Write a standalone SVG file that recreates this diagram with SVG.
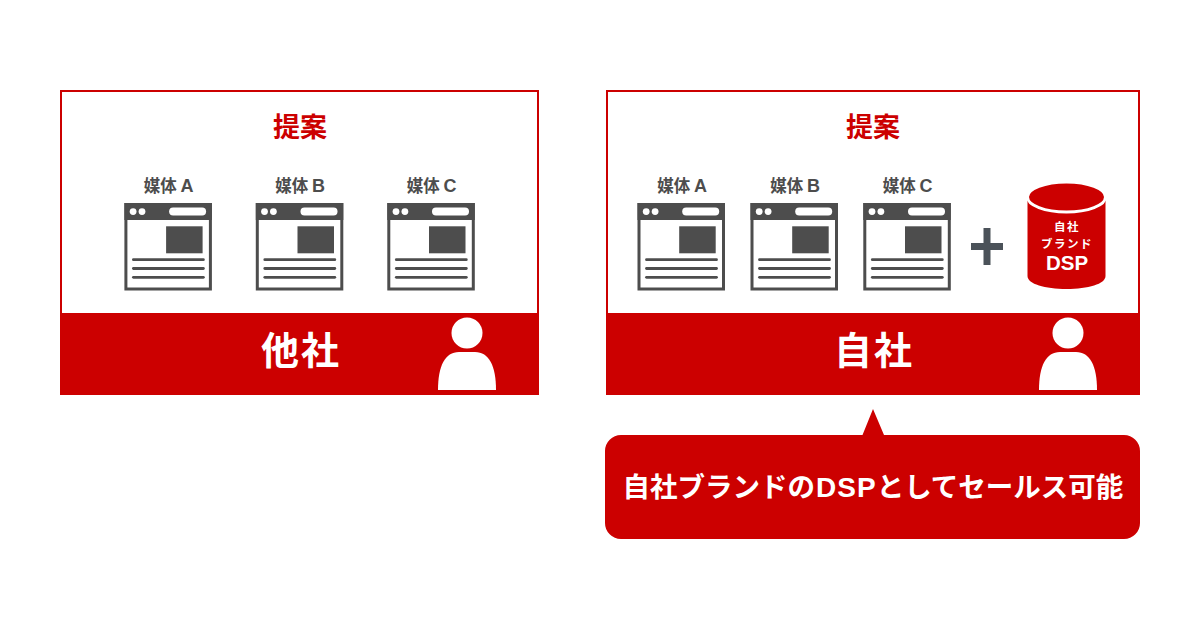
<svg xmlns="http://www.w3.org/2000/svg" width="1200" height="630" viewBox="0 0 1200 630">
<style>
text{font-family:"Noto Sans CJK JP","Noto Sans",sans-serif;font-weight:700;text-anchor:middle}
.latin{font-family:"Liberation Sans",sans-serif;font-weight:700}
.panel{fill:#fff;stroke:#cc0000;stroke-width:2}
.band{fill:#cc0000}
.red{fill:#cc0000;font-size:27px}
.white{fill:#fff}
.big{font-size:38px;letter-spacing:2px}
.media{fill:#4d4d4d;font-size:16.500px}
.dark{fill:#4d4d4d}
.line{stroke:#4d4d4d;stroke-width:2.800;stroke-linecap:round}
</style>
<defs>
<g id="browser">
<rect x="1.500" y="1.500" width="84.500" height="84.500" fill="#fff" stroke="#4d4d4d" stroke-width="3"/>
<rect width="87.500" height="17" class="dark"/>
<circle cx="8.700" cy="8.600" r="3.400" fill="#fff"/>
<circle cx="17.600" cy="8.600" r="3.400" fill="#fff"/>
<rect x="44.700" y="4.600" width="37" height="8" rx="4" fill="#fff"/>
<rect x="41.700" y="23.300" width="36.500" height="27" class="dark"/>
<line class="line" x1="9" y1="56.700" x2="79" y2="56.700"/>
<line class="line" x1="9" y1="65.500" x2="79" y2="65.500"/>
<line class="line" x1="9" y1="74.300" x2="79" y2="74.300"/>
</g>
<g id="person">
<circle cx="0" cy="-57" r="15.500" fill="#fff"/>
<path d="M-29 0C-29-24-22-38-8-38H8C22-38 29-24 29 0Z" fill="#fff"/>
</g>
</defs>
<rect width="1200" height="630" fill="#fff"/>
<g id="other-company">
<rect class="panel" x="61" y="91" width="477" height="303"/>
<rect class="band" x="61" y="313" width="477" height="81.500"/>
<text class="red" x="300" y="137">提案</text>
<text class="white big" x="301" y="364">他社</text>
<use href="#person" x="467" y="390"/>
</g>
<g id="other-media-a"><text class="media" x="168.500" y="192">媒体 <tspan class="latin" font-size="18">A</tspan></text><use href="#browser" x="124.400" y="203"/></g>
<g id="other-media-b"><text class="media" x="300" y="192">媒体 <tspan class="latin" font-size="18">B</tspan></text><use href="#browser" x="255.800" y="203"/></g>
<g id="other-media-c"><text class="media" x="431.500" y="192">媒体 <tspan class="latin" font-size="18">C</tspan></text><use href="#browser" x="387.300" y="203"/></g>
<g id="own-company">
<rect class="panel" x="607" y="91" width="532" height="303"/>
<rect class="band" x="607" y="313" width="532" height="81.500"/>
<text class="red" x="873" y="137">提案</text>
<text class="white big" x="874" y="364">自社</text>
<use href="#person" x="1068" y="390"/>
</g>
<g id="own-media-a"><text class="media" x="682" y="192">媒体 <tspan class="latin" font-size="18">A</tspan></text><use href="#browser" x="637.500" y="203"/></g>
<g id="own-media-b"><text class="media" x="795" y="192">媒体 <tspan class="latin" font-size="18">B</tspan></text><use href="#browser" x="750.500" y="203"/></g>
<g id="own-media-c"><text class="media" x="907.500" y="192">媒体 <tspan class="latin" font-size="18">C</tspan></text><use href="#browser" x="863.300" y="203"/></g>
<g id="plus"><path d="M971 243H1003V250H971ZM983.500 228H990.500V265H983.500Z" fill="#4b5259"/></g>
<g id="dsp">
<path d="M1027.500 197V276C1027.500 284 1045 289 1066.500 289S1105.500 284 1105.500 276V197Z" fill="#cc0000"/>
<ellipse cx="1066.500" cy="197" rx="39" ry="15" fill="#cc0000" stroke="#fff" stroke-width="3"/>
<text class="white" x="1067" y="231" font-size="11.500" letter-spacing="1.500">自社</text>
<text class="white" x="1067" y="248" font-size="11.500" letter-spacing="1.500">ブランド</text>
<text class="latin white" x="1067" y="270" font-size="20.500">DSP</text>
</g>
<g id="callout">
<path d="M621 435H862.500L873 409L884 435H1124A16 16 0 0 1 1140 451V523A16 16 0 0 1 1124 539H621A16 16 0 0 1 605 523V451A16 16 0 0 1 621 435Z" fill="#cc0000"/>
<text class="white" x="873" y="497" font-size="27.500">自社ブランドの<tspan class="latin" font-size="28" dx="1" letter-spacing="1">DSP</tspan>としてセールス可能</text>
</g>
</svg>
